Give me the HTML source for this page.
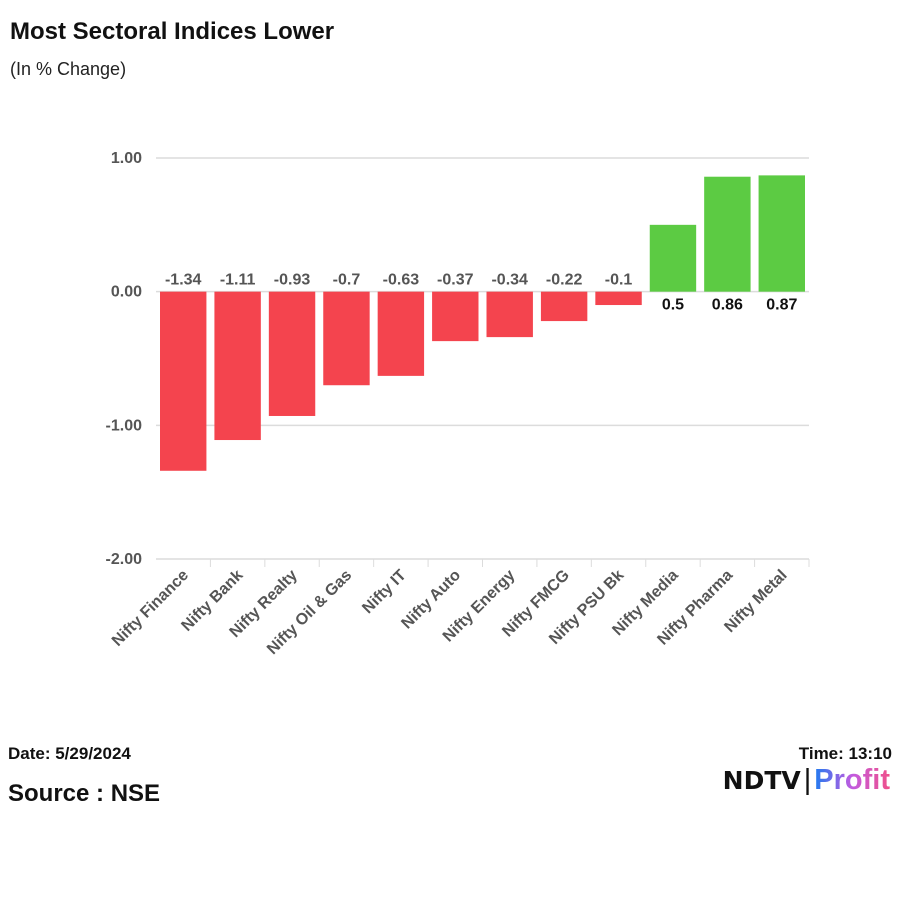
<!DOCTYPE html>
<html><head><meta charset="utf-8"><style>
body{margin:0;background:#fff;font-family:"Liberation Sans",Arial,sans-serif}
#wrap{position:relative;width:900px;height:900px;overflow:hidden}
.t{position:absolute;white-space:nowrap}
</style></head><body>
<div id="wrap">
<div class="t" style="left:10px;top:18px;font-size:24px;font-weight:bold;color:#111">Most Sectoral Indices Lower</div>
<div class="t" style="left:10px;top:59px;font-size:18px;color:#222">(In % Change)</div>
<svg id="chart" width="900" height="700" style="position:absolute;left:0;top:0"></svg>
<div class="t" style="left:8px;top:744px;font-size:17px;font-weight:bold;color:#111">Date: 5/29/2024</div>
<div class="t" style="left:8px;top:780px;font-size:24px;font-weight:bold;color:#111">Source : NSE</div>
<div class="t" style="right:8px;top:744px;font-size:17px;font-weight:bold;color:#111">Time: 13:10</div>
<div class="t" style="right:10px;top:764px;font-size:29px;font-weight:bold">
<span style="color:#111;font-size:25px;letter-spacing:0px;font-family:'DejaVu Sans',sans-serif;font-weight:900">NDTV</span><span style="color:#111;font-weight:normal;margin:0 3px">|</span><span style="background:linear-gradient(90deg,#1e7bf0,#c25be0,#f0508a);-webkit-background-clip:text;background-clip:text;color:transparent">Profit</span></div>
</div>
<script>
const categories=["Nifty Finance","Nifty Bank","Nifty Realty","Nifty Oil & Gas","Nifty IT","Nifty Auto","Nifty Energy","Nifty FMCG","Nifty PSU Bk","Nifty Media","Nifty Pharma","Nifty Metal"];
const values=[-1.34,-1.11,-0.93,-0.7,-0.63,-0.37,-0.34,-0.22,-0.1,0.5,0.86,0.87];
const ticks=[1,0,-1,-2];
const tickLabels=["1.00","0.00","-1.00","-2.00"];
const NS="http://www.w3.org/2000/svg";
const svg=document.getElementById('chart');
const x0=156,x1=809,yTop=158,yBot=559,vMax=1,vMin=-2;
const y=v=>yTop+(vMax-v)/(vMax-vMin)*(yBot-yTop);
const band=(x1-x0)/categories.length;
const bx=i=>x0+i*band;
function mk(tag,attrs,txt){const e=document.createElementNS(NS,tag);for(const k in attrs)e.setAttribute(k,attrs[k]);if(txt!=null)e.textContent=txt;svg.appendChild(e);return e;}
ticks.forEach((t,i)=>{
 const g=mk('line',{x1:x0,x2:x1,y1:y(t),y2:y(t),stroke:'#dcdcdc','stroke-width':1.5});
 
 
 const l=mk('text',{x:142,y:y(t)+5,'text-anchor':'end','font-size':16,'font-weight':'bold',fill:'#555'},tickLabels[i]);
 
 
});
categories.forEach((c,i)=>{
 const v=values[i];
 const top=Math.min(y(v),y(0)),h=Math.abs(y(v)-y(0));
 const r=mk('rect',{x:bx(i)+4,y:top,width:band-8,height:h,fill:v<0?'#f4444e':'#5ccb43'});
 
 
 const cx=bx(i)+band/2;
 const lab=mk('text',{x:cx,y:v<0?y(0)-7:y(0)+18,'text-anchor':'middle','font-size':16,'font-weight':'bold',fill:v<0?'#555':'#111'},String(v));
 
 
 const tk=mk('line',{x1:bx(i+1),x2:bx(i+1),y1:yBot,y2:yBot+8,stroke:'#dcdcdc'});
 
 
 const lx=cx+6,ly=yBot+17;
 const xl=mk('text',{x:lx,y:ly,'text-anchor':'end','font-size':16,'font-weight':'bold',fill:'#555',transform:`rotate(-45 ${lx} ${ly})`},c);
 
 
});
</script>
</body></html>
